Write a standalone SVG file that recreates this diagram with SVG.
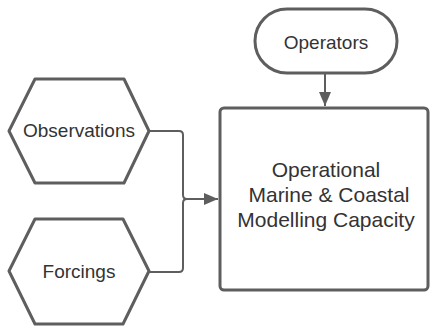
<svg xmlns="http://www.w3.org/2000/svg" width="430" height="326" viewBox="0 0 430 326">
<defs>
<style>
.shape{fill:#ffffff;stroke:#5e5e5e;stroke-width:3;stroke-linejoin:round}
.conn{fill:none;stroke:#5e5e5e;stroke-width:2;stroke-linejoin:round}
.lbl{font-family:"Liberation Sans",Arial,sans-serif;font-size:19px;fill:#333333;text-anchor:middle}
.big{font-size:21px}
</style>
<marker id="arr" markerWidth="14" markerHeight="12" refX="14" refY="6" orient="auto" markerUnits="userSpaceOnUse">
<path d="M0,0 L14,6 L0,12 Z" fill="#5e5e5e"/>
</marker>
</defs>
<rect width="430" height="326" fill="#ffffff"/>
<g id="connectors">
<path class="conn" d="M148,131 H179 Q183,131 183,135 V195 Q183,199 187,199 H218" marker-end="url(#arr)"/>
<path class="conn" d="M148,272 H179 Q183,272 183,268 V203 Q183,199 187,199"/>
<path class="conn" d="M325,73 V106" marker-end="url(#arr)"/>
</g>
<g id="observations">
<path class="shape" d="M9,131 L35,79 H124 L149,131 L124,183 H35 Z"/>
<text class="lbl" x="79" y="137">Observations</text>
</g>
<g id="forcings">
<path class="shape" d="M9,271 L35,219 H123 L149,271 L123,324 H35 Z"/>
<text class="lbl" x="79" y="278">Forcings</text>
</g>
<g id="operators">
<rect class="shape" x="255" y="9" width="142" height="64" rx="32"/>
<text class="lbl" x="326" y="49">Operators</text>
</g>
<g id="capacity">
<rect class="shape" x="220" y="108" width="208" height="182" rx="4"/>
<text class="lbl big" x="326" y="177">Operational</text>
<text class="lbl big" x="329" y="202">Marine &amp; Coastal</text>
<text class="lbl big" x="326" y="227">Modelling Capacity</text>
</g>
</svg>
